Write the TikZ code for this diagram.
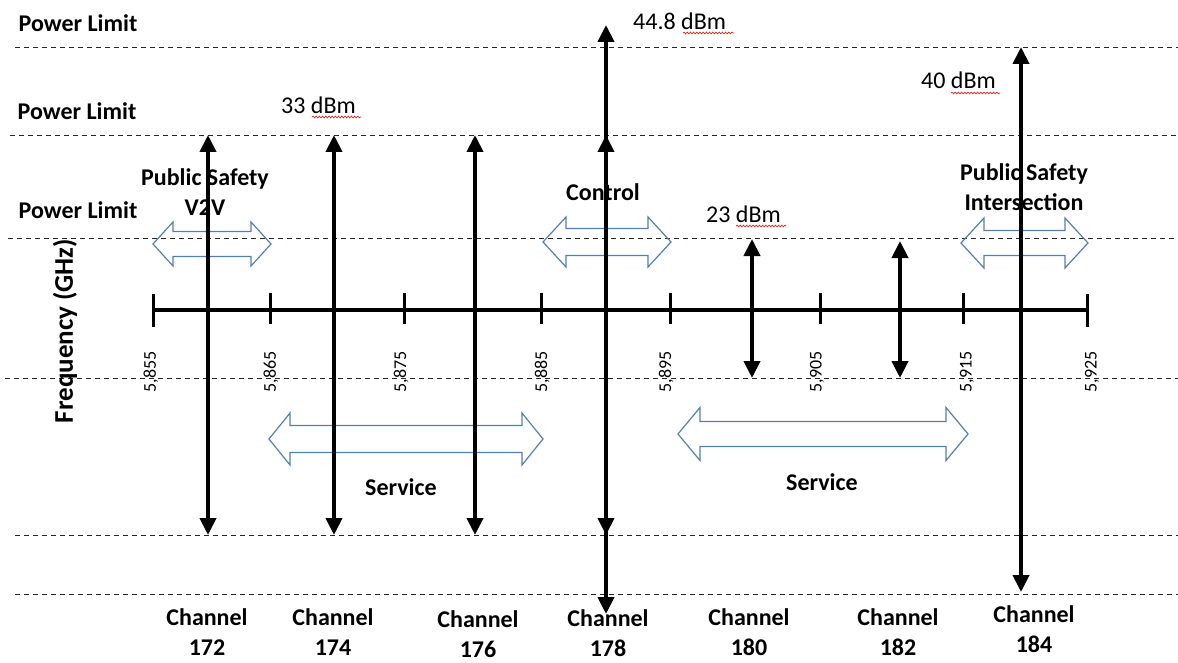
\documentclass[tikz,border=0pt]{standalone}
\usepackage{fontspec}
\setmainfont{Carlito}
\usetikzlibrary{arrows.meta,decorations.pathmorphing}
\definecolor{bandblue}{RGB}{84,128,174}
\definecolor{spellred}{RGB}{230,40,40}
% hollow two-way block arrow: x1, x2, centre y, half head height, half shaft height, head length
\newcommand{\twowayband}[6]{%
  \draw[bandarrow] (#1,#3) -- (#1+#6,#3-#4) -- (#1+#6,#3-#5) -- (#2-#6,#3-#5)
    -- (#2-#6,#3-#4) -- (#2,#3) -- (#2-#6,#3+#4) -- (#2-#6,#3+#5)
    -- (#1+#6,#3+#5) -- (#1+#6,#3+#4) -- cycle;}
\begin{document}
\begin{tikzpicture}[x=1pt,y=-1pt,
  limitline/.style={line width=0.9pt,black!85,dash pattern=on 5pt off 4pt},
  axisline/.style={line width=4pt,line cap=butt},
  tickmark/.style={line width=3pt},
  chanarrow/.style={line width=4pt,{Triangle[length=17pt,width=16pt]}-{Triangle[length=17pt,width=16pt]}},
  bandarrow/.style={line width=1.2pt,bandblue,line join=miter},
  boldlabel/.style={font=\fontsize{24}{30}\selectfont\bfseries,inner sep=0pt,align=center},
  plainlabel/.style={font=\fontsize{24}{30}\selectfont,inner sep=0pt},
  ticklabel/.style={font=\fontsize{18}{20}\selectfont,rotate=90,inner sep=0pt},
  squiggle/.style={spellred,line width=0.7pt,decorate,decoration={snake,amplitude=0.9pt,segment length=3.2pt}}]
\useasboundingbox (0,0) rectangle (1178,663);

% dashed power-limit levels
\coordinate (l1a) at (15,47);  \coordinate (l1b) at (1178,47);
\coordinate (l2a) at (10,135); \coordinate (l2b) at (1178,135);
\coordinate (l3a) at (8,238);  \coordinate (l3b) at (1178,238);
\coordinate (l4a) at (5,378);  \coordinate (l4b) at (1178,378);
\coordinate (l5a) at (15,535); \coordinate (l5b) at (1178,535);
\coordinate (l6a) at (15,594); \coordinate (l6b) at (1178,594);
\foreach \n in {1,...,6} \draw[limitline] (l\n a) -- (l\n b);

\node[boldlabel] (pl1) at (78,23) {Power Limit};
\node[boldlabel] (pl2) at (77,111) {Power Limit};
\node[boldlabel] (pl3) at (78,210) {Power Limit};

\node[boldlabel,rotate=90,font=\fontsize{27}{30}\selectfont\bfseries] (freq) at (65,331) {Frequency (GHz)};

% frequency axis with ticks
\coordinate (axL) at (153,310);
\coordinate (axR) at (1087,310);
\draw[axisline] (axL) -- (axR);
\foreach \x in {153,1087} \draw[tickmark] (\x,294) -- (\x,327);
\foreach \x in {270,404,541,670,820,963} \draw[tickmark] (\x,293) -- (\x,324);

\foreach \x/\f/\nm in {151/5{,}855/t1,271/5{,}865/t2,401/5{,}875/t3,542/5{,}885/t4,
                       666/5{,}895/t5,817/5{,}905/t6,967/5{,}915/t7,1092/5{,}925/t8}
  \node[ticklabel] (\nm) at (\x,372) {\f};

% hollow band arrows
\twowayband{153}{271}{244}{22}{12.5}{20}
\twowayband{543}{671}{242}{25}{13.5}{23}
\twowayband{961}{1088}{243}{25}{12.5}{23}
\twowayband{269}{543}{439}{26}{13.5}{21}
\twowayband{678}{968}{434}{26.5}{12.5}{22}

\node[boldlabel] (psv) at (205,192) {Public Safety\\V2V};
\node[boldlabel] (ctl) at (603,192) {Control};
\node[boldlabel] (psi) at (1024,187) {Public Safety\\Intersection};
\node[boldlabel] (svcL) at (401,487) {Service};
\node[boldlabel] (svcR) at (822,482) {Service};

% channel power arrows
\coordinate (c172t) at (208,135);  \coordinate (c172b) at (208,535);
\coordinate (c174t) at (334,135);  \coordinate (c174b) at (334,535);
\coordinate (c176t) at (475,135);  \coordinate (c176b) at (475,535);
\coordinate (c178t) at (606,25);   \coordinate (c178b) at (606,614);
\coordinate (c178u) at (606,135);  \coordinate (c178d) at (606,535);
\coordinate (c180t) at (752,239);  \coordinate (c180b) at (752,378);
\coordinate (c182t) at (900,241);  \coordinate (c182b) at (900,378);
\coordinate (c184t) at (1021,47);  \coordinate (c184b) at (1021,592);
\draw[chanarrow] (c172b) -- (c172t);
\draw[chanarrow] (c174b) -- (c174t);
\draw[chanarrow] (c176b) -- (c176t);
\draw[chanarrow] (c178b) -- (c178t);
\draw[chanarrow] (c178d) -- (c178u);
\draw[chanarrow] (c180b) -- (c180t);
\draw[chanarrow] (c182b) -- (c182t);
\draw[chanarrow] (c184b) -- (c184t);

% power levels
\node[plainlabel,anchor=west] (p448) at (633,21) {44.8 dBm};
\node[plainlabel,anchor=west] (p33) at (281,105) {33 dBm};
\node[plainlabel,anchor=west] (p40) at (921,80) {40 dBm};
\node[plainlabel,anchor=west] (p23) at (706,214) {23 dBm};
\coordinate (sq1a) at (683,33);  \coordinate (sq1b) at (734,33);
\coordinate (sq2a) at (312,117); \coordinate (sq2b) at (361,117);
\coordinate (sq3a) at (951,93);  \coordinate (sq3b) at (1000,93);
\coordinate (sq4a) at (736,226); \coordinate (sq4b) at (786,226);
\foreach \n in {1,...,4} \draw[squiggle] (sq\n a) -- (sq\n b);

% channel numbers
\foreach \x/\y/\c in {207/632/172,333/632/174,478/634/176,608/633/178,
                      749/632/180,898/632/182,1034/629/184}
  \node[boldlabel] (ch\c) at (\x,\y) {Channel\\\c};
\end{tikzpicture}
\end{document}
